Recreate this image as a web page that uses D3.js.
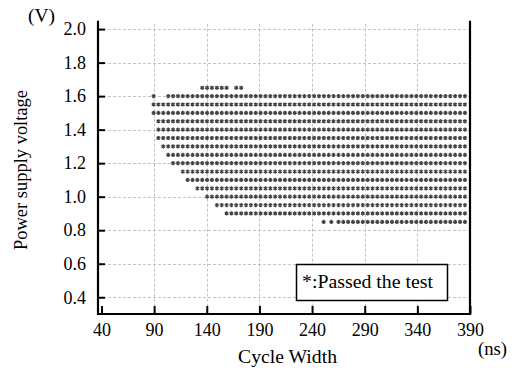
<!DOCTYPE html>
<html>
<head>
<meta charset="utf-8">
<script src="https://cdn.jsdelivr.net/npm/d3@7"></script>
<style>
  html, body { margin: 0; padding: 0; background: #fff; }
  svg { display: block; }
  svg text { font-family: "Liberation Serif", "Times New Roman", Times, serif; fill: #000; }
</style>
</head>
<body>
<svg id="chart" width="512" height="373"></svg>
<script>
// ---- data ----
const xTicks = [40, 90, 140, 190, 240, 290, 340, 390];
const yTicks = [0.4, 0.6, 0.8, 1.0, 1.2, 1.4, 1.6, 1.8, 2.0];
// cycle widths (ns) of the shmoo grid columns
const cycleWidths = [89.5, 94.1, 98.7, 103.4, 108.0, 112.6, 117.2, 121.8, 126.5, 131.1,
  135.7, 140.3, 144.9, 149.6, 154.2, 158.8, 163.4, 168.0, 172.7, 177.3,
  181.9, 186.5, 191.1, 195.8, 200.4, 205.0, 209.6, 214.2, 218.9, 223.5,
  228.1, 232.7, 237.3, 242.0, 246.6, 251.2, 255.8, 260.4, 265.1, 269.7,
  274.3, 278.9, 283.5, 288.2, 292.8, 297.4, 302.0, 306.6, 311.3, 315.9,
  320.5, 325.1, 329.7, 334.4, 339.0, 343.6, 348.2, 352.8, 357.5, 362.1,
  366.7, 371.3, 375.9, 380.6, 385.2];
// supply voltages (V) of the shmoo rows
const voltages = [1.65, 1.60, 1.55, 1.50, 1.45, 1.40, 1.35, 1.30, 1.25, 1.20,
  1.15, 1.10, 1.05, 1.00, 0.95, 0.90, 0.85];
// passing column index ranges [from, to] for each row
const passRanges = [
  [[10, 15], [17, 18]],
  [[0, 0], [3, 64]],
  [[0, 64]],
  [[0, 64]],
  [[1, 64]],
  [[1, 64]],
  [[1, 64]],
  [[2, 64]],
  [[3, 64]],
  [[4, 64]],
  [[6, 64]],
  [[7, 64]],
  [[9, 64]],
  [[11, 64]],
  [[13, 64]],
  [[15, 64]],
  [[38, 64]]
];
// isolated passing points off the regular grid
const extraPoints = [[251.0, 0.85], [258.3, 0.85]];

// ---- build points ----
const points = [];
voltages.forEach((v, r) => {
  passRanges[r].forEach(([a, b]) => {
    for (let i = a; i <= b; i++) points.push([cycleWidths[i], v]);
  });
});
extraPoints.forEach(p => points.push(p));

const FONT = '"Liberation Serif", "Times New Roman", Times, serif';

// ---- layout ----
const svg = d3.select("#chart");
const x = d3.scaleLinear().domain([36.7, 390]).range([98, 470]);
const y = d3.scaleLinear().domain([0.3, 2.05]).range([314, 20.7]);

// grid
const grid = svg.append("g").attr("stroke", "#c4c4c4").attr("stroke-width", 1)
  .attr("stroke-dasharray", "3,2");
grid.selectAll("line.h").data(yTicks).enter().append("line")
  .attr("x1", x(36.7)).attr("x2", x(390))
  .attr("y1", d => Math.round(y(d)) + 0.5).attr("y2", d => Math.round(y(d)) + 0.5);
grid.selectAll("line.v").data(xTicks.slice(1, -1)).enter().append("line")
  .attr("x1", d => Math.round(x(d)) + 0.5).attr("x2", d => Math.round(x(d)) + 0.5)
  .attr("y1", y(2.05) + 3).attr("y2", y(0.3));

// points (asterisks)
const sym = d3.symbol().type(d3.symbolAsterisk).size(12);
svg.append("g").selectAll("path").data(points).enter().append("path")
  .attr("d", sym)
  .attr("transform", d => `translate(${x(d[0])},${y(d[1])})`)
  .attr("fill", "none").attr("stroke", "#444").attr("stroke-width", 1.4);

// axes
const xAxis = d3.axisBottom(x).tickValues(xTicks).tickSize(-8).tickPadding(9)
  .tickFormat(d3.format("d"));
const gx = svg.append("g").attr("transform", "translate(0,314)").call(xAxis);
const yAxis = d3.axisLeft(y).tickValues(yTicks).tickSize(-7).tickPadding(12)
  .tickFormat(d3.format(".1f"));
const gy = svg.append("g").attr("transform", "translate(98,0)").call(yAxis);
[gx, gy].forEach(g => {
  g.attr("font-family", FONT);
  g.select(".domain").remove();
  g.selectAll(".tick line").attr("stroke", "#000").attr("stroke-width", 2);
  g.selectAll(".tick text").attr("font-family", FONT).attr("font-size", 18)
    .attr("fill", "#000");
});
gx.selectAll(".tick text").attr("dy", "0.72em");

// frame (left, bottom, right)
svg.append("path")
  .attr("d", `M98,20.7 V314 H470 V20.7`)
  .attr("fill", "none").attr("stroke", "#000").attr("stroke-width", 2.2);

// labels
const lab = (sel, w) => sel.attr("font-family", FONT).attr("font-size", 18)
  .attr("textLength", w).attr("lengthAdjust", "spacingAndGlyphs");
lab(svg.append("text").attr("x", 28).attr("y", 22).text("(V)"), 27);
lab(svg.append("text").attr("transform", "translate(27,250) rotate(-90)")
  .text("Power supply voltage"), 160);
lab(svg.append("text").attr("x", 238).attr("y", 363).text("Cycle Width"), 99);
lab(svg.append("text").attr("x", 478).attr("y", 355).text("(ns)"), 29);

// legend box
svg.append("rect").attr("x", 296.5).attr("y", 264.5).attr("width", 151).attr("height", 36)
  .attr("fill", "#fff").attr("stroke", "#000").attr("stroke-width", 1.5);
lab(svg.append("text").attr("x", 302).attr("y", 288).text("*:Passed the test"), 131);
</script>
</body>
</html>
